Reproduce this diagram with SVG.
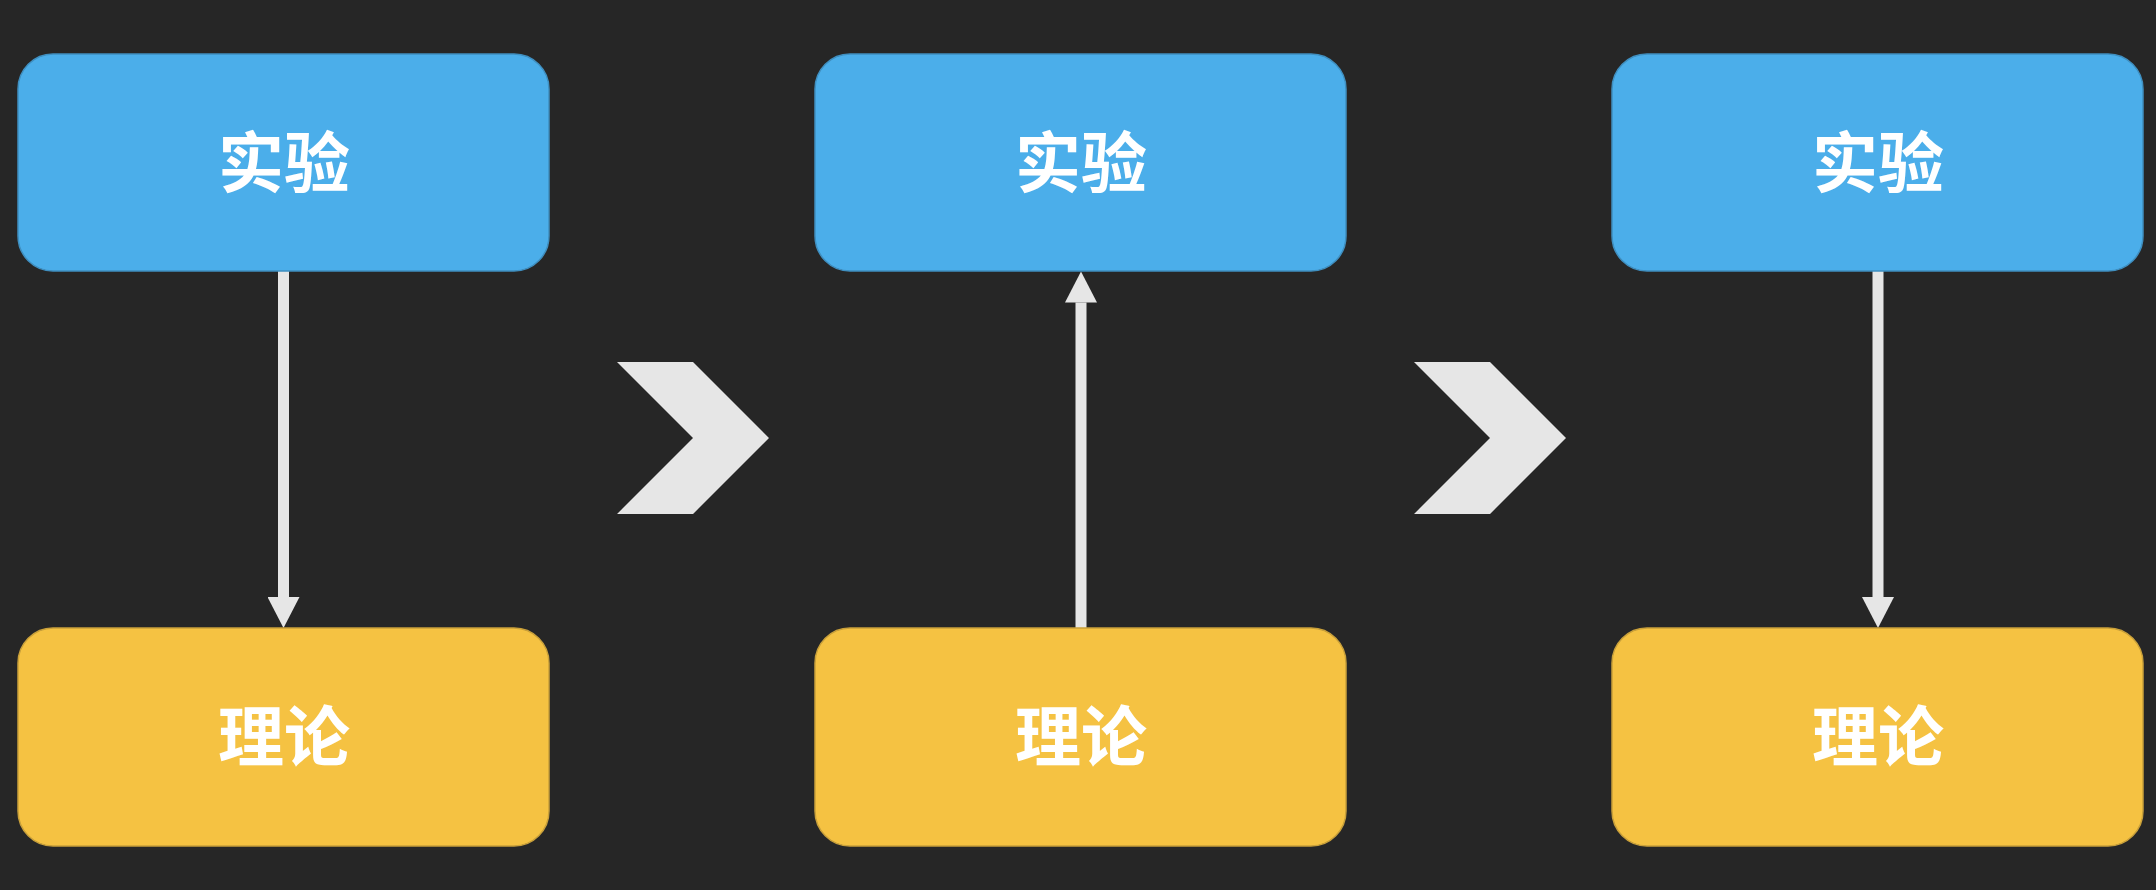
<svg xmlns="http://www.w3.org/2000/svg" width="2156" height="890" viewBox="0 0 2156 890">
<style>
.exp{fill:#4baeea;stroke:#3f8fc0;stroke-width:1.5}
.thy{fill:#f5c242;stroke:#c9a03a;stroke-width:1.5}
.lbl{font-family:"Noto Sans CJK SC","Noto Sans CJK JP",sans-serif;font-weight:bold;font-size:66px;fill:#ffffff;text-anchor:middle}
.line{stroke:#e6e6e6;stroke-width:11;fill:none}
.chev{fill:#e6e6e6}
</style>
<defs>
<marker id="ah" viewBox="0 0 31 32" refX="0" refY="16" markerWidth="31" markerHeight="32" markerUnits="userSpaceOnUse" orient="auto">
<path d="M0,0 L31,16 L0,32 Z" fill="#e6e6e6"/>
</marker>
</defs>
<rect width="2156" height="890" fill="#262626"/>
<g id="connectors">
<line class="line" x1="283.5" y1="271" x2="283.5" y2="597" marker-end="url(#ah)"/>
<line class="line" x1="1081" y1="628" x2="1081" y2="302.5" marker-end="url(#ah)"/>
<line class="line" x1="1878" y1="271" x2="1878" y2="597" marker-end="url(#ah)"/>
</g>
<g id="chevron1"><polygon class="chev" points="617,362 693,362 769,438 693,514 617,514 693,438"/></g>
<g id="chevron2"><polygon class="chev" points="1414,362 1490,362 1566,438 1490,514 1414,514 1490,438"/></g>
<g id="exp1"><rect class="exp" x="18" y="54" width="531" height="217" rx="35"/><text class="lbl" x="284" y="187">实验</text></g>
<g id="thy1"><rect class="thy" x="18" y="628" width="531" height="218" rx="35"/><text class="lbl" x="284" y="761">理论</text></g>
<g id="exp2"><rect class="exp" x="815" y="54" width="531" height="217" rx="35"/><text class="lbl" x="1081" y="187">实验</text></g>
<g id="thy2"><rect class="thy" x="815" y="628" width="531" height="218" rx="35"/><text class="lbl" x="1081" y="761">理论</text></g>
<g id="exp3"><rect class="exp" x="1612" y="54" width="531" height="217" rx="35"/><text class="lbl" x="1878" y="187">实验</text></g>
<g id="thy3"><rect class="thy" x="1612" y="628" width="531" height="218" rx="35"/><text class="lbl" x="1878" y="761">理论</text></g>
</svg>
